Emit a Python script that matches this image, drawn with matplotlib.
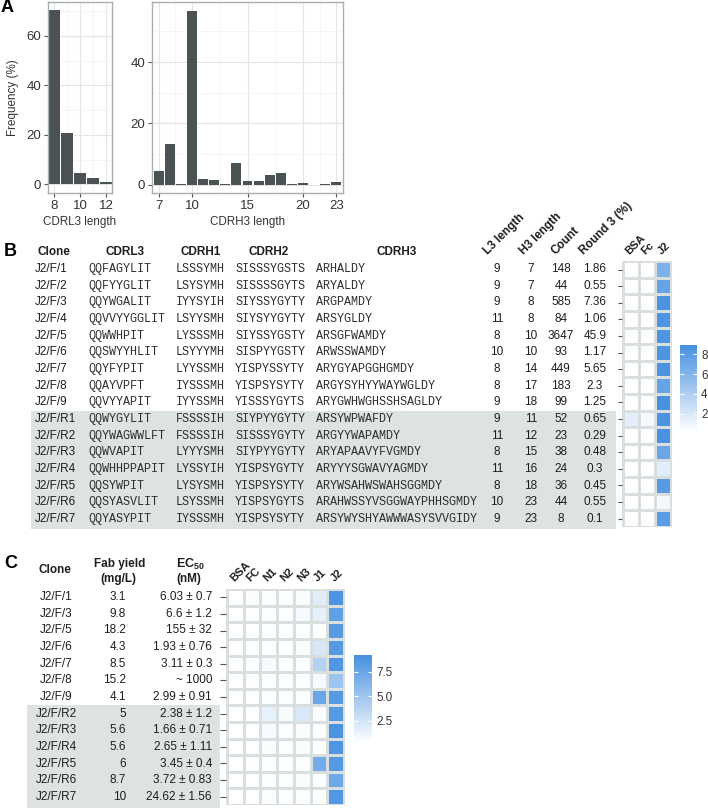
import numpy as np
import matplotlib
matplotlib.use('Agg')
import matplotlib.pyplot as plt
from matplotlib.colors import LinearSegmentedColormap, Normalize
from matplotlib.patches import Rectangle

# ---------------- data ----------------
cdrl3_len = [8, 9, 10, 11, 12]
cdrl3_freq = [70.4, 20.9, 4.7, 2.7, 1.1]
cdrh3_len = list(range(7, 24))
cdrh3_freq = [4.6, 13.4, 0.2, 56.8, 2.0, 1.4, 0.3, 7.2, 1.2, 1.2, 3.2, 3.8, 0.3, 0.7, 0.05, 0.1, 1.0]

clones_b = ['J2/F/1', 'J2/F/2', 'J2/F/3', 'J2/F/4', 'J2/F/5', 'J2/F/6', 'J2/F/7', 'J2/F/8', 'J2/F/9',
            'J2/F/R1', 'J2/F/R2', 'J2/F/R3', 'J2/F/R4', 'J2/F/R5', 'J2/F/R6', 'J2/F/R7']
cdrl3 = ['QQFAGYLIT', 'QQFYYGLIT', 'QQYWGALIT', 'QQVVYYGGLIT', 'QQWWHPIT', 'QQSWYYHLIT', 'QQYFYPIT',
         'QQAYVPFT', 'QQVYYAPIT', 'QQWYGYLIT', 'QQYWAGWWLFT', 'QQWVAPIT', 'QQWHHPPAPIT', 'QQSYWPIT',
         'QQSYASVLIT', 'QQYASYPIT']
cdrh1 = ['LSSSYMH', 'LSYSYMH', 'IYYSYIH', 'LSYYSMH', 'LYSSSMH', 'LSYYYMH', 'LYYSSMH', 'IYSSSMH',
         'IYYSSMH', 'FSSSSIH', 'FSSSSIH', 'LYYYSMH', 'LYSSYIH', 'LYSYSMH', 'LSYSSMH', 'IYSSSMH']
cdrh2 = ['SISSSYGSTS', 'SISSSSGYTS', 'SIYSSYGYTY', 'SIYSYYGYTY', 'SIYSSYGSTY', 'SISPYYGSTY',
         'YISPYSSYTY', 'YISPSYSYTY', 'YISSSYGYTS', 'SIYPYYGYTY', 'SISSSYGYTY', 'SIYPYYGYTY',
         'YISPSYGYTY', 'YISPSYSYTY', 'YISPSYGYTS', 'YISPSYSYTY']
cdrh3 = ['ARHALDY', 'ARYALDY', 'ARGPAMDY', 'ARSYGLDY', 'ARSGFWAMDY', 'ARWSSWAMDY', 'ARYGYAPGGHGMDY',
         'ARGYSYHYYWAYWGLDY', 'ARYGWHWGHSSHSAGLDY', 'ARSYWPWAFDY', 'ARGYYWAPAMDY', 'ARYAPAAVYFVGMDY',
         'ARYYYSGWAVYAGMDY', 'ARYWSAHWSWAHSGGMDY', 'ARAHWSSYVSGGWAYPHHSGMDY', 'ARSYWYSHYAWWWASYSVVGIDY']
l3_len = [9, 9, 9, 11, 8, 10, 8, 8, 9, 9, 11, 8, 11, 8, 10, 9]
h3_len = [7, 7, 8, 8, 10, 10, 14, 17, 18, 11, 12, 15, 16, 18, 23, 23]
counts = [148, 44, 585, 84, 3647, 93, 449, 183, 99, 52, 23, 38, 24, 36, 44, 8]
round3 = ['1.86', '0.55', '7.36', '1.06', '45.9', '1.17', '5.65', '2.3', '1.25', '0.65', '0.29',
          '0.48', '0.3', '0.45', '0.55', '0.1']
targets_b = ['BSA', 'Fc', 'J2']
bsa_b = [0.3, 0.3, 0.3, 0.3, 0.3, 0.3, 0.3, 0.3, 0.3, 1.5, 0.3, 0.3, 0.3, 0.3, 0.3, 0.3]
fc_b = [0.3, 0.3, 0.3, 0.3, 0.3, 0.3, 0.3, 0.3, 0.3, 0.7, 0.3, 0.3, 0.3, 0.3, 0.3, 0.3]
j2_b = [6.3, 7.4, 8.6, 8.5, 8.5, 8.5, 8.6, 7.4, 8.8, 8.6, 8.7, 7.2, 1.6, 8.0, 0.8, 7.9]

clones_c = ['J2/F/1', 'J2/F/3', 'J2/F/5', 'J2/F/6', 'J2/F/7', 'J2/F/8', 'J2/F/9',
            'J2/F/R2', 'J2/F/R3', 'J2/F/R4', 'J2/F/R5', 'J2/F/R6', 'J2/F/R7']
fab_yield = ['3.1', '9.8', '18.2', '4.3', '8.5', '15.2', '4.1', '5', '5.6', '5.6', '6', '8.7', '10']
ec50 = ['6.03 ± 0.7', '6.6 ± 1.2', '155 ± 32', '1.93 ± 0.76', '3.11 ± 0.3', '~ 1000', '2.99 ± 0.91',
        '2.38 ± 1.2', '1.66 ± 0.71', '2.65 ± 1.11', '3.45 ± 0.4', '3.72 ± 0.83', '24.62 ± 1.56']
targets_c = ['BSA', 'FC', 'N1', 'N2', 'N3', 'J1', 'J2']
bsa_c = [0.3, 0.3, 0.3, 0.3, 0.3, 0.3, 0.3, 0.3, 0.3, 0.3, 0.3, 0.3, 0.3]
fc_c = [0.6, 0.5, 0.4, 0.5, 0.4, 0.5, 0.4, 0.3, 0.4, 0.4, 0.5, 0.4, 0.4]
n1_c = [0.5, 0.4, 0.4, 0.4, 0.7, 0.4, 0.4, 1.5, 0.8, 0.6, 0.4, 0.5, 0.5]
n2_c = [0.5, 0.4, 0.4, 0.4, 0.4, 0.4, 0.4, 0.7, 0.5, 0.5, 0.4, 0.5, 0.4]
n3_c = [0.6, 0.8, 0.5, 0.6, 0.5, 0.5, 0.4, 2.2, 0.6, 0.6, 0.5, 0.6, 0.5]
j1_c = [1.8, 1.5, 0.3, 2.3, 4.0, 0.8, 7.5, 0.6, 0.5, 0.4, 7.0, 0.5, 0.4]
j2_c = [8.8, 8.0, 8.3, 8.5, 8.7, 5.0, 8.5, 8.5, 8.9, 8.7, 8.5, 7.2, 8.6]

# ---------------- setup ----------------
W, H = 708, 808
plt.rcParams['font.family'] = ['Liberation Sans', 'DejaVu Sans']
plt.rcParams['mathtext.fontset'] = 'custom'
plt.rcParams['mathtext.rm'] = 'Liberation Sans'
plt.rcParams['mathtext.bf'] = 'Liberation Sans:bold'

fig = plt.figure(figsize=(W / 100, H / 100), dpi=100)


def rect(x, y, w, h):
    return [x / W, 1 - (y + h) / H, w / W, h / H]


BAR = '#4a5253'
BORDER = '#a7b1b1'
TXT = '#1e1e1e'
SEQ = '#2e2e2e'
BAND = '#dde2e2'
GAP = '#d9dede'
FS = 8.5
MFS = 8.5
MONO = ['Liberation Mono', 'DejaVu Sans Mono']
cmap = LinearSegmentedColormap.from_list('wb', ['#ffffff', '#4690e0'])


def style_hist(ax):
    for s in ax.spines.values():
        s.set_color(BORDER)
        s.set_linewidth(1.0)
    ax.set_axisbelow(True)
    ax.grid(True, which='major', color='#e4e4e4', lw=0.8)
    ax.grid(True, which='minor', color='#f2f2f2', lw=0.5)
    ax.tick_params(which='major', colors='#555555', labelcolor='#333333', labelsize=9.5,
                   length=3, width=0.8, pad=2)
    ax.tick_params(which='minor', length=0)


# ---------------- panel A ----------------
axL = fig.add_axes(rect(48, 2, 64, 191))
axL.bar(cdrl3_len, cdrl3_freq, width=0.9, color=BAR)
axL.set_xlim(7.55, 12.45)
axL.set_ylim(-3.5, 73.7)
axL.set_xticks([8, 10, 12])
axL.set_xticks([9, 11], minor=True)
axL.set_yticks([0, 20, 40, 60])
axL.set_yticks([10, 30, 50, 70], minor=True)
style_hist(axL)
axL.set_xlabel('CDRL3 length', fontsize=8.4, color='#333333', labelpad=3)
axL.set_ylabel('Frequency (%)', fontsize=8.4, color='#333333')
axL.yaxis.set_label_coords((19 - 48) / 64, 0.5)

axR = fig.add_axes(rect(152, 2, 191, 191))
axR.bar(cdrh3_len, cdrh3_freq, width=0.9, color=BAR)
axR.set_xlim(6.4, 23.6)
axR.set_ylim(-2.7, 59.6)
axR.set_xticks([7, 10, 15, 20, 23])
axR.set_xticks([8.5, 12.5, 17.5, 21.5], minor=True)
axR.set_yticks([0, 20, 40])
axR.set_yticks([10, 30, 50], minor=True)
style_hist(axR)
axR.set_xlabel('CDRH3 length', fontsize=8.4, color='#333333', labelpad=3)

fig.text(1 / W, 1 - 8 / H, 'A', fontsize=13, fontweight='bold', va='center', ha='left')
fig.text(4 / W, 1 - 252 / H, 'B', fontsize=13, fontweight='bold', va='center', ha='left')
fig.text(4 / W, 1 - 563 / H, 'C', fontsize=13, fontweight='bold', va='center', ha='left')

# ---------------- panel B table ----------------
nb = len(clones_b)
tb = fig.add_axes(rect(0, 260.7, 622, 266.7))
tb.set_xlim(0, 622)
tb.set_ylim(nb - 0.5, -0.5)
tb.axis('off')
tb.add_patch(Rectangle((31, 8.5), 616 - 31, 7.1, facecolor=BAND, edgecolor='none', zorder=0,
                       clip_on=False))
hdr = dict(fontsize=FS, fontweight='bold', color=TXT, va='center')
tb.text(37, -1.0, 'Clone', ha='left', **hdr)
tb.text(125, -1.0, 'CDRL3', ha='center', **hdr)
tb.text(201, -1.0, 'CDRH1', ha='center', **hdr)
tb.text(269, -1.0, 'CDRH2', ha='center', **hdr)
tb.text(397, -1.0, 'CDRH3', ha='center', **hdr)
for x, lab in zip([490, 526, 558, 586], ['L3 length', 'H3 length', 'Count', 'Round 3 (%)']):
    tb.text(x, -0.72, lab, ha='left', va='bottom', rotation=45, rotation_mode='anchor',
            fontsize=FS, fontweight='bold', color=TXT)
for i in range(nb):
    tb.text(35, i, clones_b[i], ha='left', va='center', fontsize=FS, color=TXT)
    tb.text(88, i, cdrl3[i], ha='left', va='center', fontsize=MFS, family=MONO, color=SEQ)
    tb.text(176, i, cdrh1[i], ha='left', va='center', fontsize=MFS, family=MONO, color=SEQ)
    tb.text(235, i, cdrh2[i], ha='left', va='center', fontsize=MFS, family=MONO, color=SEQ)
    tb.text(316, i, cdrh3[i], ha='left', va='center', fontsize=MFS, family=MONO, color=SEQ)
    tb.text(497, i, str(l3_len[i]), ha='center', va='center', fontsize=FS, color=TXT)
    tb.text(531, i, str(h3_len[i]), ha='center', va='center', fontsize=FS, color=TXT)
    tb.text(561, i, str(counts[i]), ha='center', va='center', fontsize=FS, color=TXT)
    tb.text(595, i, round3[i], ha='center', va='center', fontsize=FS, color=TXT)

# heatmap B
normB = Normalize(vmin=0.2, vmax=8.9)
matB = np.array([bsa_b, fc_b, j2_b]).T
hb = fig.add_axes(rect(622, 260.7, 50, 266.7))
hb.set_facecolor(GAP)
mB = hb.pcolormesh(np.arange(len(targets_b) + 1), np.arange(nb + 1), matB, cmap=cmap, norm=normB,
                   edgecolors=GAP, linewidth=2.0)
hb.set_xlim(-0.05, len(targets_b) + 0.05)
hb.set_ylim(nb + 0.03, -0.03)
for s in hb.spines.values():
    s.set_visible(False)
hb.set_yticks(np.arange(nb) + 0.5)
hb.set_yticklabels([''] * nb)
hb.tick_params(axis='y', length=3, width=0.8, color='#555555', pad=0)
hb.xaxis.tick_top()
hb.set_xticks(np.arange(len(targets_b)) + 0.5)
hb.set_xticklabels(targets_b, rotation=45, ha='left', rotation_mode='anchor', fontsize=8,
                   fontweight='bold', color=TXT)
hb.tick_params(axis='x', length=0, pad=3)

caxB = fig.add_axes(rect(680, 345, 17, 87))
cbB = fig.colorbar(mB, cax=caxB, ticks=[2, 4, 6, 8])
cbB.outline.set_visible(False)
caxB.tick_params(left=True, right=True, labelleft=False, labelright=True, direction='in',
                 color='white', length=3, width=0.8, labelsize=8.4, labelcolor='#333333', pad=3)

# ---------------- panel C table ----------------
nc = len(clones_c)
tc = fig.add_axes(rect(0, 588.7, 226, 216.7))
tc.set_xlim(0, 226)
tc.set_ylim(nc - 0.5, -0.5)
tc.axis('off')
tc.add_patch(Rectangle((27, 6.5), 193, 6.3, facecolor=BAND, edgecolor='none', zorder=0,
                       clip_on=False))
tc.text(55, -1.62, 'Clone', ha='center', **hdr)
tc.text(120, -1.98, 'Fab yield', ha='center', **hdr)
tc.text(118, -1.08, '(mg/L)', ha='center', **hdr)
tc.text(190, -1.95, r'$\mathbf{EC_{50}}$', ha='center', fontsize=FS + 0.5, color=TXT, va='center')
tc.text(189, -1.08, '(nM)', ha='center', **hdr)
for i in range(nc):
    tc.text(56, i, clones_c[i], ha='center', va='center', fontsize=FS, color=TXT)
    tc.text(126, i, fab_yield[i], ha='right', va='center', fontsize=FS, color=TXT)
    tc.text(212, i, ec50[i], ha='right', va='center', fontsize=FS, color=TXT)

normC = Normalize(vmin=0.35, vmax=9.2)
matC = np.array([bsa_c, fc_c, n1_c, n2_c, n3_c, j1_c, j2_c]).T
hc = fig.add_axes(rect(226, 588.7, 119, 216.7))
hc.set_facecolor(GAP)
mC = hc.pcolormesh(np.arange(len(targets_c) + 1), np.arange(nc + 1), matC, cmap=cmap, norm=normC,
                   edgecolors=GAP, linewidth=2.0)
hc.set_xlim(-0.05, len(targets_c) + 0.05)
hc.set_ylim(nc + 0.03, -0.03)
for s in hc.spines.values():
    s.set_visible(False)
hc.set_yticks(np.arange(nc) + 0.5)
hc.set_yticklabels([''] * nc)
hc.tick_params(axis='y', length=4, width=0.8, color='#555555', pad=0)
hc.xaxis.tick_top()
hc.set_xticks(np.arange(len(targets_c)) + 0.5)
hc.set_xticklabels(targets_c, rotation=45, ha='left', rotation_mode='anchor', fontsize=8,
                   fontweight='bold', color=TXT)
hc.tick_params(axis='x', length=0, pad=4)

caxC = fig.add_axes(rect(354, 655, 18, 87))
cbC = fig.colorbar(mC, cax=caxC, ticks=[2.5, 5.0, 7.5], format='%.1f')
cbC.outline.set_visible(False)
caxC.tick_params(left=True, right=True, labelleft=False, labelright=True, direction='in',
                 color='white', length=3, width=0.8, labelsize=8.4, labelcolor='#333333', pad=3)

fig.savefig('out.png', dpi=100)
